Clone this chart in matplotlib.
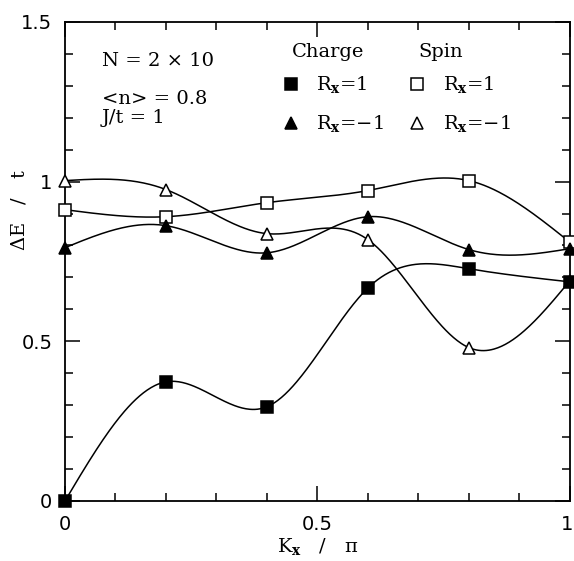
import numpy as np
import matplotlib
matplotlib.use("Agg")
import matplotlib.pyplot as plt
from matplotlib.ticker import MultipleLocator

# values
kx = [0.0, 0.2, 0.4, 0.6, 0.8, 1.0]
charge_p = [0.0, 0.373, 0.295, 0.667, 0.727, 0.686]   # Charge, Rx=1
charge_m = [0.793, 0.862, 0.777, 0.890, 0.787, 0.790]  # Charge, Rx=-1
spin_p = [0.912, 0.890, 0.934, 0.972, 1.003, 0.810]    # Spin, Rx=1
spin_m = [1.003, 0.975, 0.837, 0.818, 0.480, 0.690]    # Spin, Rx=-1

info_lines = ["N = 2 \u00d7 10", "<n> = 0.8", "J/t = 1"]


def natural_spline(x, y, xs):
    # natural cubic spline through the points, evaluated at xs
    x = np.asarray(x, float)
    y = np.asarray(y, float)
    n = len(x)
    h = np.diff(x)
    A = np.zeros((n, n))
    b = np.zeros(n)
    A[0, 0] = A[-1, -1] = 1
    for i in range(1, n - 1):
        A[i, i - 1] = h[i - 1]
        A[i, i] = 2 * (h[i - 1] + h[i])
        A[i, i + 1] = h[i]
        b[i] = 6 * ((y[i + 1] - y[i]) / h[i] - (y[i] - y[i - 1]) / h[i - 1])
    M = np.linalg.solve(A, b)
    idx = np.clip(np.searchsorted(x, xs) - 1, 0, n - 2)
    x0, x1 = x[idx], x[idx + 1]
    hh = x1 - x0
    t0 = x1 - xs
    t1 = xs - x0
    return (M[idx] * t0 ** 3 / (6 * hh) + M[idx + 1] * t1 ** 3 / (6 * hh)
            + (y[idx] / hh - M[idx] * hh / 6) * t0
            + (y[idx + 1] / hh - M[idx + 1] * hh / 6) * t1)


plt.rcParams['font.family'] = ['DejaVu Serif']
plt.rcParams['mathtext.fontset'] = 'dejavuserif'

fig = plt.figure(figsize=(5.74, 5.61), dpi=100)
ax = fig.add_axes([0.1132, 0.107, 0.8798, 0.854])

xs = np.linspace(0, 1, 400)
series = [
    (charge_p, 's', 'black'),
    (charge_m, '^', 'black'),
    (spin_p, 's', 'white'),
    (spin_m, '^', 'white'),
]
for vals, mk, face in series:
    ax.plot(xs, natural_spline(kx, vals, xs), color='black', lw=1.1, zorder=2)
for vals, mk, face in series[::-1]:
    ax.plot(kx, vals, linestyle='none', marker=mk, ms=9 if mk == '^' else 8.5,
            mfc=face, mec='black', mew=1.1, zorder=3, clip_on=False)

ax.set_xlim(0, 1)
ax.set_ylim(0, 1.5)
ax.xaxis.set_major_locator(MultipleLocator(0.5))
ax.xaxis.set_minor_locator(MultipleLocator(0.1))
ax.yaxis.set_major_locator(MultipleLocator(0.5))
ax.yaxis.set_minor_locator(MultipleLocator(0.1))
# the "1" at the right end is drawn separately so it stays inside the picture
ax.xaxis.set_major_formatter(plt.FuncFormatter(lambda v, p: '' if v > 0.99 else '%g' % v))
ax.yaxis.set_major_formatter(plt.FuncFormatter(lambda v, p: '%g' % v))
ax.tick_params(which='both', direction='in', top=True, right=True, width=1.1,
               labelsize=14)
ax.tick_params(axis='x', which='major', pad=10)
ax.tick_params(axis='y', which='major', pad=9)
ax.tick_params(which='major', length=11)
ax.tick_params(which='minor', length=6)
for lab in ax.get_xticklabels() + ax.get_yticklabels():
    lab.set_family('DejaVu Sans')
for sp in ax.spines.values():
    sp.set_linewidth(1.3)
ax.annotate('1', xy=(1, 0), xycoords='axes fraction', xytext=(-2, -10),
            textcoords='offset points', ha='center', va='top', fontsize=14,
            family='DejaVu Sans')

ax.set_xlabel(r'K$_\mathbf{x}$   /   π', fontsize=14)
ax.xaxis.set_label_coords(0.5, -0.074)
ax.set_ylabel(r'$\Delta$E   /   t', fontsize=14)
ax.yaxis.set_label_coords(-0.072, 0.607)

# parameter block, top left
ax.text(0.073, 1.376, info_lines[0], fontsize=14, va='center')
ax.text(0.073, 1.257, info_lines[1], fontsize=14, va='center')
ax.text(0.073, 1.20, info_lines[2], fontsize=14, va='center')

# hand-made legend
ax.text(0.449, 1.407, 'Charge', fontsize=14, va='center')
ax.text(0.699, 1.407, 'Spin', fontsize=14, va='center')
rows = [(1.304, r'R$_\mathbf{x}$=1', 's'), (1.182, r'R$_\mathbf{x}$=$-$1', '^')]
for yy, lab, mk in rows:
    ms = 9 if mk == '^' else 8.5
    ax.plot([0.4475], [yy], marker=mk, ms=ms, mfc='black', mec='black', mew=1.1)
    ax.text(0.497, yy, lab, fontsize=14, va='center')
    ax.plot([0.697], [yy], marker=mk, ms=ms, mfc='white', mec='black', mew=1.1)
    ax.text(0.748, yy, lab, fontsize=14, va='center')

fig.savefig('out.png', dpi=100)
